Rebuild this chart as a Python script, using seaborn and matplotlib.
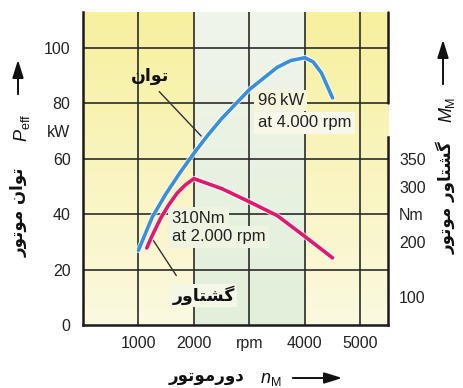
import numpy as np
import matplotlib
matplotlib.use("Agg")
import matplotlib.pyplot as plt
import matplotlib.patheffects as pe
import seaborn as sns

# ---------------- data ----------------
power_rpm = [1000, 1250, 1500, 1750, 2000, 2250, 2500, 3000, 3500, 3750, 4000, 4150, 4300, 4500]
power_kw = [27, 39, 47.5, 55, 62, 68.5, 74.5, 85, 93, 95.5, 96.5, 95, 91, 82]

torque_rpm = [1150, 1250, 1400, 1550, 1700, 1850, 2000, 2250, 2500, 3000, 3500, 4000, 4500]
torque_nm = [189, 212, 243, 268, 289, 304, 315, 306, 297, 273, 248, 210, 171]

x_ticks = [1000, 2000, 3000, 4000, 5000]
x_tick_labels = ["1000", "2000", "rpm", "4000", "5000"]
kw_ticks = [0, 20, 40, 60, 70, 80, 100]
kw_tick_labels = ["0", "20", "40", "60", "kW", "80", "100"]
kw_grid = [20, 40, 60, 80, 100]
nm_ticks = [100, 200, 250, 300, 350]
nm_tick_labels = ["100", "200", "Nm", "300", "350"]
nm_minor = [100, 200, 300]

power_peak_label = ["96\u2009kW", "at 4.000 rpm"]
torque_peak_label = ["310Nm", "at 2.000 rpm"]

# Persian words in visual (shaped, left-to-right) order
TAVAN = "\uFEE5\uFE8D\uFEEE\uFE97"                    # توان
MOTOR = "\uFEAD\uFEEE\uFE97\uFEEE\uFEE3"              # موتور
GASHTAVAR = "\uFEAD\uFEED\uFE8E\uFE98\uFEB8\uFB94"    # گشتاور
DOR = "\uFEAD\uFEED\uFEA9"                            # دور

# ---------------- style ----------------
sns.set_theme(style="white")
plt.rcParams["font.family"] = ["Liberation Sans", "DejaVu Sans"]
plt.rcParams["mathtext.fontset"] = "custom"
plt.rcParams["mathtext.rm"] = "Liberation Sans"
plt.rcParams["mathtext.it"] = "Liberation Sans:italic"

W, H = 463, 388
fig = plt.figure(figsize=(W / 100, H / 100), dpi=100)
fig.patch.set_facecolor("white")
L, R, B, T = 83, 388, 325, 12
ax = fig.add_axes([L / W, 1 - B / H, (R - L) / W, (B - T) / H])

XMAX, KWMAX = 5500, 113
NM_LO, NM_HI = 49, 618
ax.set_xlim(0, XMAX)
ax.set_ylim(0, KWMAX)

# background bands with vertical gradient
def band(x0, x1, top, bot):
    n = 100
    t = np.linspace(0, 1, n)[:, None]
    top = np.array(top) / 255.0
    bot = np.array(bot) / 255.0
    img = (top * (1 - t) + bot * t)[:, None, :]
    ax.imshow(img, extent=[x0, x1, 0, KWMAX], aspect="auto", zorder=0.1,
              interpolation="bilinear")

yel_top, yel_bot = (247, 240, 158), (251, 249, 224)
grn_top, grn_bot = (240, 245, 234), (226, 239, 218)
band(0, 2000, yel_top, yel_bot)
band(2000, 4000, grn_top, grn_bot)
band(4000, XMAX, yel_top, yel_bot)
ax.set_xlim(0, XMAX)
ax.set_ylim(0, KWMAX)

grid_col = "#2b2b2b"
for v in kw_grid:
    ax.axhline(v, color=grid_col, lw=1.2, zorder=1)
for v in x_ticks:
    ax.axvline(v, color=grid_col, lw=1.2, zorder=1)

# spines
for s in ["top", "right"]:
    ax.spines[s].set_visible(False)
for s in ["left", "bottom"]:
    ax.spines[s].set_color("#1a1a1a")
    ax.spines[s].set_linewidth(1.8)
ax.axvline(XMAX, ymin=80 / KWMAX, ymax=1, color="#1a1a1a", lw=1.8, clip_on=False, zorder=5)

ax.set_xticks(x_ticks)
ax.set_xticklabels(x_tick_labels)
ax.set_yticks(kw_ticks)
ax.set_yticklabels(kw_tick_labels)
ax.tick_params(axis="both", length=0, labelsize=11.5, colors="#222222")
ax.tick_params(axis="x", pad=8)
ax.tick_params(axis="y", pad=9)

# power curve
sns.lineplot(x=power_rpm, y=power_kw, ax=ax, color="#3a8fd8", lw=2.6, zorder=4,
             path_effects=[pe.Stroke(linewidth=4.2, foreground="white", alpha=0.7), pe.Normal()])

# annotations on main axes
box_kw = dict(boxstyle="square,pad=0.15", fc="#f5f6e6", ec="none")
ax.text(3150, 81, power_peak_label[0], ha="left", va="center", fontsize=12, color="#222222",
        zorder=3, bbox=dict(boxstyle="square,pad=0.2", fc="#f6f5dc", ec="none"))
ax.text(3150, 73, power_peak_label[1], ha="left", va="center", fontsize=12, color="#222222",
        zorder=3, bbox=dict(boxstyle="square,pad=0.2", fc="#f7f7ea", ec="none"))
ax.text(1600, 38.6, torque_peak_label[0], ha="left", va="center", fontsize=12, color="#222222",
        zorder=3, bbox=dict(boxstyle="square,pad=0.2", fc="#eef3e2", ec="none"))
ax.text(1600, 31.8, torque_peak_label[1], ha="left", va="center", fontsize=12, color="#222222",
        zorder=3, bbox=dict(boxstyle="square,pad=0.2", fc="#eef3e2", ec="none"))

ax.annotate("", xy=(2165, 67.5), xytext=(1340, 85),
            arrowprops=dict(arrowstyle="-", color="#333333", lw=1.0), zorder=3)
ax.text(1210, 90, TAVAN, ha="center", va="center", fontsize=12.5, fontweight="bold",
        family="DejaVu Sans", color="#111111", zorder=3)
ax.annotate("", xy=(1240, 31.4), xytext=(1710, 17),
            arrowprops=dict(arrowstyle="-", color="#333333", lw=1.0), zorder=3)
ax.text(2180, 10.8, GASHTAVAR, ha="center", va="center", fontsize=12.5, fontweight="bold",
        family="DejaVu Sans", color="#111111", zorder=3,
        bbox=dict(boxstyle="square,pad=0.1", fc="#f4f7e8", ec="none"))

# torque axis
ax2 = ax.twinx()
ax2.set_ylim(NM_LO, NM_HI)
ax2.set_xlim(0, XMAX)
sns.lineplot(x=torque_rpm, y=torque_nm, ax=ax2, color="#e0186e", lw=2.6, zorder=4,
             path_effects=[pe.Stroke(linewidth=4.2, foreground="white", alpha=0.7), pe.Normal()])
ax2.set_ylim(NM_LO, NM_HI)
ax2.set_xlim(0, XMAX)
for s in ["top", "left", "bottom"]:
    ax2.spines[s].set_visible(False)
ax2.spines["right"].set_color("#1a1a1a")
ax2.spines["right"].set_linewidth(1.8)
ax2.spines["right"].set_bounds(NM_LO, 391)
ax2.set_yticks(nm_ticks)
ax2.set_yticklabels(nm_tick_labels)
ax2.set_yticks(nm_minor, minor=True)
ax2.tick_params(axis="y", which="major", length=0, pad=8, labelsize=11.5, colors="#222222")
ax2.tick_params(axis="y", which="minor", length=6, width=1.3, direction="in", color="#1a1a1a")
ax2.set_ylabel("")
ax.set_ylabel("")
ax.set_xlabel("")

# ---------------- outer labels ----------------
def fx(x):
    return x / W

def fy(y):
    return 1 - y / H

arrow_kw = dict(arrowstyle="-|>,head_length=0.9,head_width=0.28", color="#111111", lw=1.4)

# left
fig.text(fx(19), fy(212), MOTOR + " " + TAVAN, rotation=90, ha="center", va="center",
         fontsize=12, fontweight="bold", family="DejaVu Sans", color="#111111")
fig.text(fx(22), fy(128), r"$P_\mathrm{eff}$", rotation=90, ha="center", va="center",
         fontsize=13, color="#111111")
fig.patches.append(matplotlib.patches.FancyArrowPatch(
    (fx(18), fy(97)), (fx(18), fy(57)), transform=fig.transFigure, mutation_scale=12, **arrow_kw))

# right
fig.text(fx(446), fy(198), MOTOR + " " + GASHTAVAR, rotation=90, ha="center", va="center",
         fontsize=12, fontweight="bold", family="DejaVu Sans", color="#111111")
fig.text(fx(447), fy(110), r"$M_\mathrm{M}$", rotation=90, ha="center", va="center",
         fontsize=13, color="#111111")
fig.patches.append(matplotlib.patches.FancyArrowPatch(
    (fx(443), fy(87)), (fx(443), fy(37)), transform=fig.transFigure, mutation_scale=12, **arrow_kw))

# bottom
fig.text(fx(207), fy(376), MOTOR + DOR, ha="center", va="center",
         fontsize=12, fontweight="bold", family="DejaVu Sans", color="#111111")
fig.text(fx(271), fy(379), r"$n_\mathrm{M}$", ha="center", va="center",
         fontsize=13, color="#111111")
fig.patches.append(matplotlib.patches.FancyArrowPatch(
    (fx(290), fy(378)), (fx(345), fy(378)), transform=fig.transFigure, mutation_scale=12, **arrow_kw))

fig.savefig("out.png", dpi=100)
